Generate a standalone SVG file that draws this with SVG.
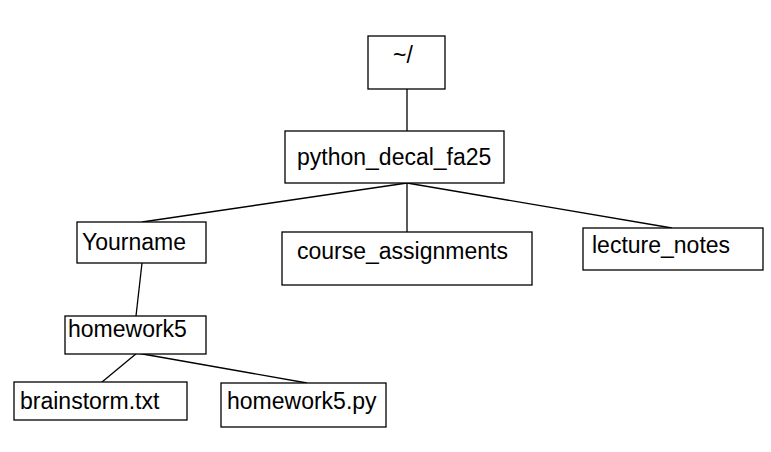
<svg xmlns="http://www.w3.org/2000/svg" width="771" height="452" viewBox="0 0 771 452">
<style>
.box{fill:#fff;stroke:#000;stroke-width:1.3}
.t{font-family:"Liberation Sans",Arial,sans-serif;font-size:23px;fill:#000}
.c{stroke:#000;stroke-width:1.3;fill:none}
</style>
<rect width="771" height="452" fill="#fff"/>
<g id="connectors">
<line class="c" x1="407" y1="89" x2="407" y2="131"/>
<line class="c" x1="407" y1="183" x2="142" y2="222"/>
<line class="c" x1="407" y1="183" x2="407" y2="232"/>
<line class="c" x1="407" y1="183" x2="672" y2="228"/>
<line class="c" x1="142" y1="263" x2="136" y2="316"/>
<line class="c" x1="137" y1="353" x2="102" y2="382"/>
<line class="c" x1="137" y1="353" x2="307" y2="383"/>
</g>
<g id="home"><rect class="box" x="368" y="36" width="77" height="53"/><text class="t" x="393" y="63">~/</text></g>
<g id="python_decal_fa25"><rect class="box" x="285" y="131" width="219" height="52"/><text class="t" x="297" y="165">python_decal_fa25</text></g>
<g id="yourname"><rect class="box" x="77" y="222" width="129" height="41"/><text class="t" x="82" y="250">Yourname</text></g>
<g id="course_assignments"><rect class="box" x="282" y="232" width="250" height="53"/><text class="t" x="297" y="259">course_assignments</text></g>
<g id="lecture_notes"><rect class="box" x="583" y="228" width="180" height="42"/><text class="t" x="592" y="253">lecture_notes</text></g>
<g id="homework5"><rect class="box" x="65" y="316" width="141" height="38"/><text class="t" x="68" y="337">homework5</text></g>
<g id="brainstorm"><rect class="box" x="14" y="382" width="173" height="38"/><text class="t" x="20" y="409">brainstorm.txt</text></g>
<g id="homework5py"><rect class="box" x="221" y="383" width="165" height="44"/><text class="t" x="227" y="409">homework5.py</text></g>
</svg>
